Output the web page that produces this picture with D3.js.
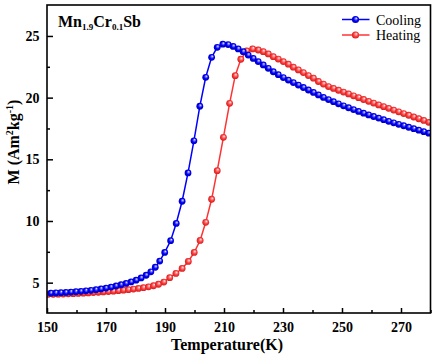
<!DOCTYPE html>
<html>
<head>
<meta charset="utf-8">
<script src="https://cdn.jsdelivr.net/npm/d3@7"></script>
<style>
  html, body { margin: 0; padding: 0; background: #fff; }
  svg { display: block; }
  text { font-family: "Liberation Serif", "Times New Roman", serif; }
</style>
</head>
<body>
<div id="chart"></div>
<script>
// Temperature (K) and magnetization (Am^2 kg^-1)
const coolT = [151.3,153.0,154.7,156.4,158.1,159.8,161.5,163.2,164.9,166.6,168.3,170.0,171.7,173.4,175.1,176.8,178.5,180.2,181.9,183.6,185.2,186.7,188.2,189.9,191.9,193.8,195.8,197.8,199.8,201.8,203.8,205.8,207.7,209.6,211.4,213.1,214.8,216.5,218.2,219.9,221.6,223.3,225.0,226.7,228.4,230.1,231.8,233.5,235.2,236.9,238.6,240.3,242.0,243.7,245.4,247.1,248.8,250.5,252.2,253.9,255.6,257.3,259.0,260.7,262.4,264.1,265.8,267.5,269.2,270.9,272.6,274.3,276.0,277.7,279.4];
const coolM = [4.15,4.17,4.19,4.21,4.24,4.27,4.30,4.34,4.38,4.43,4.49,4.56,4.64,4.73,4.83,4.94,5.06,5.20,5.38,5.60,5.88,6.25,6.75,7.45,8.40,9.80,11.6,13.9,16.5,19.3,21.65,23.27,24.08,24.33,24.30,24.15,23.95,23.72,23.45,23.18,22.92,22.65,22.38,22.10,21.86,21.63,21.42,21.22,21.02,20.82,20.62,20.42,20.22,20.02,19.84,19.67,19.50,19.34,19.18,19.03,18.88,18.74,18.60,18.47,18.34,18.21,18.08,17.96,17.84,17.72,17.60,17.48,17.36,17.24,17.12];

const heatT = [150.4,152.1,153.8,155.5,157.2,158.9,160.6,162.3,164.0,165.7,167.4,169.1,170.8,172.5,174.2,175.9,177.6,179.3,181.0,182.7,184.4,186.1,187.8,189.6,191.6,193.7,195.8,197.9,199.9,201.9,203.8,205.8,207.7,209.8,211.9,213.8,215.7,217.7,219.7,221.6,223.3,225.0,226.7,228.4,230.1,231.8,233.5,235.2,236.9,238.6,240.3,242.0,243.7,245.4,247.1,248.8,250.5,252.2,253.9,255.6,257.3,259.0,260.7,262.4,264.1,265.8,267.5,269.2,270.9,272.6,274.3,276.0,277.7,279.4];
const heatM = [4.05,4.06,4.07,4.08,4.10,4.11,4.13,4.15,4.17,4.20,4.22,4.25,4.28,4.31,4.35,4.39,4.43,4.48,4.53,4.59,4.66,4.75,4.87,5.05,5.40,5.75,6.15,6.72,7.45,8.42,9.89,11.76,14.08,16.78,19.54,21.78,23.11,23.78,23.95,23.86,23.73,23.54,23.32,23.13,22.92,22.71,22.47,22.25,22.03,21.79,21.58,21.31,21.10,20.90,20.75,20.60,20.45,20.30,20.15,20.00,19.85,19.70,19.56,19.41,19.27,19.13,18.99,18.85,18.71,18.57,18.43,18.29,18.15,18.00];

const xMajor = [150, 170, 190, 210, 230, 250, 270];
const xMinor = [160, 180, 200, 220, 240, 260, 280];
const yMajor = [5, 10, 15, 20, 25];
const yMinor = [7.5, 12.5, 17.5, 22.5];
const seriesNames = ["Cooling", "Heating"];

const width = 434, height = 360;
const margin = {left: 47, right: 3.5, top: 5, bottom: 47};

const svg = d3.select("#chart").append("svg")
    .attr("width", width)
    .attr("height", height);

const x = d3.scaleLinear().domain([150, 280]).range([margin.left, width - margin.right]);
const y = d3.scaleLinear().domain([2.54, 27.51]).range([height - margin.bottom, margin.top]);

// sphere-looking markers
const defs = svg.append("defs");
function ballGradient(id, stops) {
    const g = defs.append("radialGradient")
        .attr("id", id)
        .attr("cx", "50%").attr("cy", "50%").attr("r", "55%")
        .attr("fx", "62%").attr("fy", "32%");
    stops.forEach(s => g.append("stop").attr("offset", s[0]).attr("stop-color", s[1]));
}
ballGradient("ballBlue", [["0%", "#ffffff"], ["22%", "#8080ff"], ["55%", "#0000ff"], ["100%", "#0000a8"]]);
ballGradient("ballRed", [["0%", "#ffffff"], ["22%", "#ffa0a0"], ["55%", "#ff3c3c"], ["100%", "#c81818"]]);

const series = [
    {name: seriesNames[0], T: coolT, M: coolM, line: "#0000ff", fill: "url(#ballBlue)"},
    {name: seriesNames[1], T: heatT, M: heatM, line: "#ff3333", fill: "url(#ballRed)"}
];

const clip = defs.append("clipPath").attr("id", "plotClip");
clip.append("rect")
    .attr("x", margin.left).attr("y", margin.top)
    .attr("width", width - margin.left - margin.right)
    .attr("height", height - margin.top - margin.bottom);

const line = d3.line().x(d => x(d[0])).y(d => y(d[1]));

// heating drawn first so cooling sits on top where they cross
[series[1], series[0]].forEach(s => {
    const pts = s.T.map((t, i) => [t, s.M[i]]);
    const g = svg.append("g").attr("clip-path", "url(#plotClip)");
    g.append("path")
        .datum(pts)
        .attr("d", line)
        .attr("fill", "none")
        .attr("stroke", s.line)
        .attr("stroke-width", 1.5);
    g.selectAll("circle")
        .data(pts)
        .enter()
        .append("circle")
        .attr("cx", d => x(d[0]))
        .attr("cy", d => y(d[1]))
        .attr("r", 3.4)
        .attr("fill", s.fill);
});

// axes, ticks pointing inward
const bottomY = height - margin.bottom;
function styleAxis(g) {
    g.select(".domain").remove();
    g.selectAll(".tick line").attr("stroke", "#000").attr("stroke-width", 1.5);
    g.selectAll(".tick text")
        .attr("fill", "#000")
        .attr("font-size", "14px")
        .attr("font-weight", "bold")
        .attr("font-family", "'Liberation Serif', 'Times New Roman', serif");
}

svg.append("g")
    .attr("transform", `translate(0,${bottomY})`)
    .call(d3.axisBottom(x).tickValues(xMajor).tickSize(-5).tickPadding(9).tickFormat(d3.format("d")))
    .call(styleAxis);
svg.append("g")
    .attr("transform", `translate(0,${bottomY})`)
    .call(d3.axisBottom(x).tickValues(xMinor).tickSize(-3).tickFormat(""))
    .call(styleAxis);

svg.append("g")
    .attr("transform", `translate(${margin.left},0)`)
    .call(d3.axisLeft(y).tickValues(yMajor).tickSize(-6).tickPadding(7.5).tickFormat(d3.format("d")))
    .call(styleAxis);
svg.append("g")
    .attr("transform", `translate(${margin.left},0)`)
    .call(d3.axisLeft(y).tickValues(yMinor).tickSize(-3).tickFormat(""))
    .call(styleAxis);

// frame
svg.append("rect")
    .attr("x", margin.left)
    .attr("y", margin.top)
    .attr("width", width - margin.left - margin.right)
    .attr("height", height - margin.top - margin.bottom)
    .attr("fill", "none")
    .attr("stroke", "#000")
    .attr("stroke-width", 1.6);

// axis titles
svg.append("text")
    .attr("x", 227)
    .attr("y", 350)
    .attr("text-anchor", "middle")
    .attr("font-size", "16px")
    .attr("font-weight", "bold")
    .text("Temperature(K)");

const yTitle = svg.append("text")
    .attr("transform", "translate(19,142) rotate(-90)")
    .attr("text-anchor", "middle")
    .attr("font-size", "16px")
    .attr("font-weight", "bold");
yTitle.append("tspan").text("M (Am");
yTitle.append("tspan").attr("font-size", "10px").attr("dy", -6).text("2");
yTitle.append("tspan").attr("dy", 6).text("kg");
yTitle.append("tspan").attr("font-size", "10px").attr("dy", -6).text("-1");
yTitle.append("tspan").attr("dy", 6).text(")");

// sample label
const label = svg.append("text")
    .attr("x", 58)
    .attr("y", 27)
    .attr("font-size", "16px")
    .attr("font-weight", "bold");
label.append("tspan").text("Mn");
label.append("tspan").attr("font-size", "9px").attr("dy", 3).text("1.9");
label.append("tspan").attr("dy", -3).text("Cr");
label.append("tspan").attr("font-size", "9px").attr("dy", 3).text("0.1");
label.append("tspan").attr("dy", -3).text("Sb");

// legend
const legend = svg.append("g");
series.forEach((s, i) => {
    const ly = 19.5 + i * 15.5;
    legend.append("line")
        .attr("x1", 342).attr("x2", 369.5)
        .attr("y1", ly).attr("y2", ly)
        .attr("stroke", s.line)
        .attr("stroke-width", 1.5);
    legend.append("circle")
        .attr("cx", 355.5).attr("cy", ly)
        .attr("r", 3.6)
        .attr("fill", s.fill);
    legend.append("text")
        .attr("x", 376)
        .attr("y", ly + 5)
        .attr("font-size", "14px")
        .text(s.name);
});
</script>
</body>
</html>
